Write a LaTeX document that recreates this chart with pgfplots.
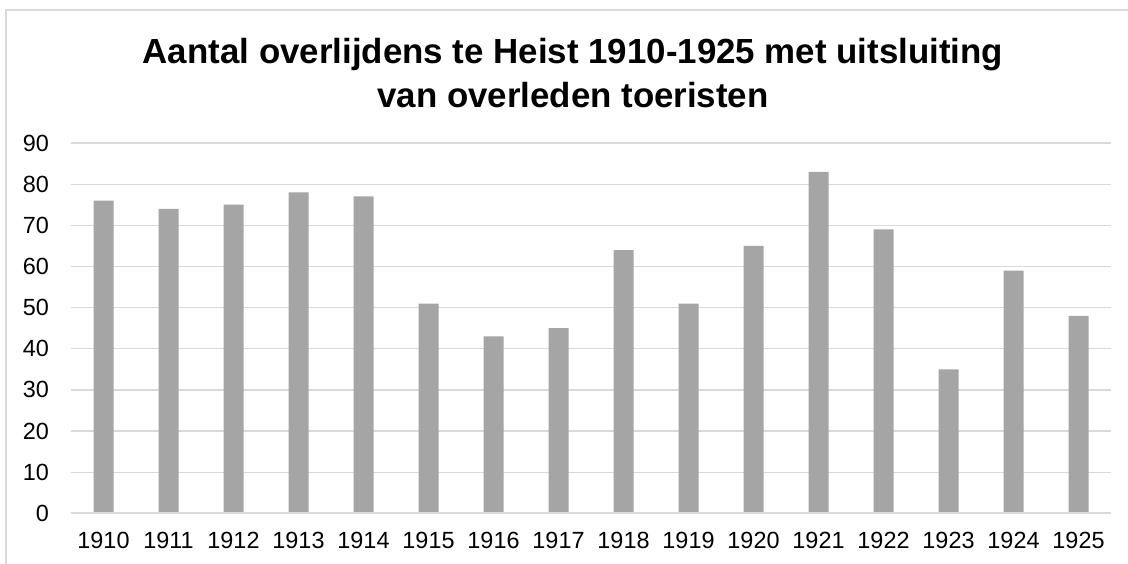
\documentclass[border=0pt]{standalone}
\usepackage{pgfplots}
\pgfplotsset{compat=1.18}
\usepackage{fontspec}
\setmainfont{Liberation Sans}
\definecolor{bargray}{HTML}{A5A5A5}
\definecolor{gridgray}{HTML}{D9D9D9}
\begin{document}
\begin{tikzpicture}[x=1bp,y=1bp]
\useasboundingbox (0,0) rectangle (1128,564);
\draw[gridgray, line width=1.5bp] (6,0) -- (6,554) -- (1128,554);
\node[font=\fontsize{35}{40}\selectfont\bfseries, anchor=base] at (573,500) {Aantal overlijdens te Heist 1910-1925 met uitsluiting};
\node[font=\fontsize{35}{40}\selectfont\bfseries, anchor=base] at (573,456) {van overleden toeristen};
\begin{axis}[
  at={(71bp,50.6bp)}, anchor=south west,
  scale only axis, width=1040bp, height=370.4bp,
  xmin=-0.5, xmax=15.5, ymin=0, ymax=90,
  xtick=data,
  xticklabels={1910,1911,1912,1913,1914,1915,1916,1917,1918,1919,1920,1921,1922,1923,1924,1925},
  ytick={0,10,...,90},
  axis line style={draw=none},
  axis x line*=bottom,
  major tick length=0pt,
  ymajorgrids, grid style={gridgray, line width=1.3bp},
  /pgf/number format/assume math mode=true,
  tick label style={font=\fontsize{23.5}{27}\selectfont},
  yticklabel style={anchor=east, inner sep=0pt, xshift=-22bp},
  xticklabel style={anchor=north, inner sep=0pt, yshift=-19bp},
  clip=false,
]
\addplot[ybar, bar width=20bp, fill=bargray, draw=none] coordinates {
(0,76) (1,74) (2,75) (3,78) (4,77) (5,51) (6,43) (7,45)
(8,64) (9,51) (10,65) (11,83) (12,69) (13,35) (14,59) (15,48)};
\draw[gridgray, line width=2bp] (axis cs:-0.5,0) -- (axis cs:15.5,0);
\end{axis}
\end{tikzpicture}
\end{document}
